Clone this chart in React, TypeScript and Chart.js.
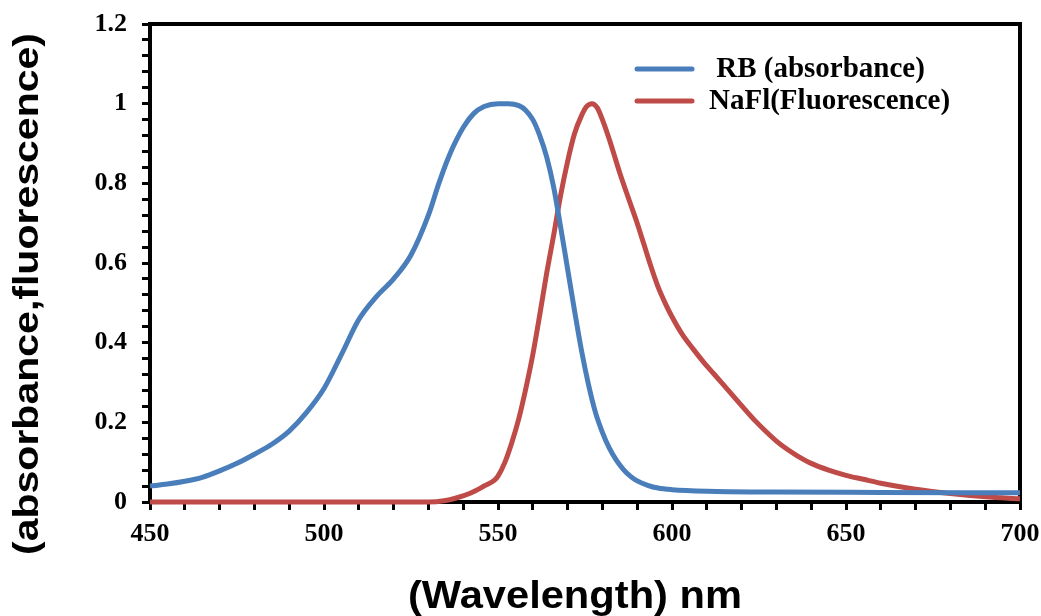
import React, { useEffect, useRef } from "react";
import { Chart, registerables } from "chart.js";

Chart.register(...registerables);

// ---- data ----
const rbWavelengths = [
  450, 455, 460, 465, 470, 475, 480, 485, 490, 495, 500, 505, 510, 515, 520, 525, 530, 533, 536, 540,
  543, 546, 550, 553, 556, 558, 560, 562, 564, 566, 568, 570, 572, 574, 576, 578, 580, 582, 584, 586,
  588, 590, 593, 596, 600, 610, 630, 660, 700,
];
const rbAbsorbance = [
  0.04, 0.045, 0.052, 0.062, 0.078, 0.097, 0.12, 0.145, 0.178, 0.225, 0.285, 0.37, 0.458, 0.515, 0.56,
  0.62, 0.72, 0.8, 0.87, 0.94, 0.975, 0.993, 1.0, 1.0, 0.995, 0.983, 0.96, 0.92, 0.866, 0.79, 0.69,
  0.585, 0.48, 0.38, 0.295, 0.225, 0.175, 0.135, 0.105, 0.082, 0.065, 0.053, 0.042, 0.035, 0.031, 0.027,
  0.025, 0.024, 0.023,
];

const naflWavelengths = [
  450, 500, 530, 535, 538, 542, 546, 549, 550, 552, 554, 556, 558, 560, 562, 564, 566, 568, 570, 572,
  574, 575.5, 577, 578.5, 580, 582, 585, 588, 590, 592, 594, 596, 598, 600, 603, 606, 609, 612, 615, 618,
  621, 624, 627, 630, 633, 636, 640, 645, 650, 655, 660, 670, 680, 690, 700,
];
const naflFluorescence = [
  0, 0, 0, 0.004, 0.01, 0.022, 0.04, 0.055, 0.065, 0.1, 0.15, 0.21, 0.285, 0.37, 0.47, 0.575, 0.67,
  0.77, 0.855, 0.925, 0.97, 0.993, 1.0, 0.99, 0.96, 0.91, 0.826, 0.75, 0.7, 0.645, 0.59, 0.54, 0.5,
  0.465, 0.42, 0.385, 0.352, 0.322, 0.292, 0.262, 0.232, 0.203, 0.177, 0.153, 0.133, 0.116, 0.097,
  0.08, 0.067, 0.057, 0.047, 0.032, 0.021, 0.013, 0.008,
];

const seriesLabels = [" RB (absorbance)", "NaFl(Fluorescence)"];
const seriesColors = ["#4A7EBB", "#BE4B48"];

const xMajorTicks = [450, 500, 550, 600, 650, 700];
const yMajorTicks = [0, 0.2, 0.4, 0.6, 0.8, 1, 1.2];

const xTitle = "(Wavelength) nm";
const yTitle = "(absorbance,fluorescence)";

const toPoints = (xs: number[], ys: number[]) => xs.map((x, i) => ({ x, y: ys[i] }));

const framePlugin = {
  id: "frame",
  beforeDatasetsDraw(chart: any) {
    const { ctx, chartArea } = chart;
    ctx.save();
    ctx.strokeStyle = "#000";
    ctx.lineWidth = 4;
    ctx.strokeRect(chartArea.left, chartArea.top, chartArea.right - chartArea.left, chartArea.bottom - chartArea.top);
    ctx.restore();
  },
};

const titlesAndLegendPlugin = {
  id: "titlesLegend",
  afterDraw(chart: any) {
    const { ctx, chartArea } = chart;
    ctx.save();
    ctx.fillStyle = "#000";
    ctx.textAlign = "center";
    ctx.textBaseline = "middle";

    // x title
    ctx.font = "bold 38px 'Liberation Sans', Arial, sans-serif";
    let w = ctx.measureText(xTitle).width;
    ctx.save();
    ctx.translate(575, 598);
    ctx.scale(334 / w, 1);
    ctx.fillText(xTitle, 0, 0);
    ctx.restore();

    // y title
    ctx.font = "bold 35px 'Liberation Sans', Arial, sans-serif";
    w = ctx.measureText(yTitle).width;
    ctx.save();
    ctx.translate(28, 294);
    ctx.rotate(-Math.PI / 2);
    ctx.scale(522 / w, 1);
    ctx.fillText(yTitle, 0, 0);
    ctx.restore();

    // legend
    const x0 = chartArea.left + 487;
    const rows = [69, 101];
    ctx.textAlign = "left";
    ctx.font = "bold 29px 'Liberation Serif', 'Times New Roman', serif";
    chart.data.datasets.forEach((ds: any, i: number) => {
      const y = rows[i];
      ctx.strokeStyle = ds.borderColor;
      ctx.lineWidth = 5;
      ctx.lineCap = "round";
      ctx.beginPath();
      ctx.moveTo(x0, y);
      ctx.lineTo(x0 + 55, y);
      ctx.stroke();
      ctx.fillText(ds.label, x0 + 72, y + 1);
    });
    ctx.restore();
  },
};

const zeroPadding = (s: any) => {
  s.paddingTop = 0;
  s.paddingBottom = 0;
  s.paddingLeft = 0;
  s.paddingRight = 0;
};

export default function App() {
  const ref = useRef<HTMLCanvasElement | null>(null);

  useEffect(() => {
    if (!ref.current) return;
    const tickFont = { family: "'Liberation Serif', 'Times New Roman', serif", weight: "bold" as const, size: 26 };
    const chart = new Chart(ref.current, {
      type: "line",
      data: {
        datasets: [
          {
            label: seriesLabels[0],
            data: toPoints(rbWavelengths, rbAbsorbance),
            borderColor: seriesColors[0],
            backgroundColor: seriesColors[0],
            borderWidth: 5,
            pointRadius: 0,
            cubicInterpolationMode: "monotone",
            clip: 6,
          },
          {
            label: seriesLabels[1],
            data: toPoints(naflWavelengths, naflFluorescence),
            borderColor: seriesColors[1],
            backgroundColor: seriesColors[1],
            borderWidth: 5,
            pointRadius: 0,
            cubicInterpolationMode: "monotone",
            clip: 6,
          },
        ],
      },
      options: {
        responsive: false,
        animation: false,
        devicePixelRatio: 1,
        layout: { padding: { top: 24, right: 21, left: 0, bottom: 0 } },
        plugins: { legend: { display: false }, tooltip: { enabled: false } },
        scales: {
          x: {
            type: "linear",
            min: 450,
            max: 700,
            afterFit: (s: any) => {
              s.height = 114;
              zeroPadding(s);
            },
            ticks: {
              stepSize: 10,
              autoSkip: false,
              maxRotation: 0,
              color: "#000",
              font: tickFont,
              padding: 9,
              callback: (v: any) => (xMajorTicks.includes(Math.round(v)) && Math.abs(v - Math.round(v)) < 1e-6 ? String(Math.round(v)) : ""),
            },
            grid: { drawOnChartArea: false, drawTicks: true, tickLength: 8, tickWidth: 3, tickColor: "#000" },
            border: { display: false },
          },
          y: {
            type: "linear",
            min: 0,
            max: 1.2,
            afterFit: (s: any) => {
              s.width = 150;
              zeroPadding(s);
            },
            ticks: {
              stepSize: 0.04,
              autoSkip: false,
              color: "#000",
              font: tickFont,
              padding: 15,
              callback: (v: any) => {
                const m = yMajorTicks.find((t) => Math.abs(t - v) < 1e-6);
                return m !== undefined ? String(m) : "";
              },
            },
            grid: { drawOnChartArea: false, drawTicks: true, tickLength: 8, tickWidth: 3, tickColor: "#000" },
            border: { display: false },
          },
        },
      },
      plugins: [framePlugin, titlesAndLegendPlugin],
    });
    return () => chart.destroy();
  }, []);

  return (
    <div style={{ position: "fixed", left: 0, top: 0, width: 1041, height: 616, background: "#fff" }}>
      <canvas ref={ref} width={1041} height={616} />
    </div>
  );
}
